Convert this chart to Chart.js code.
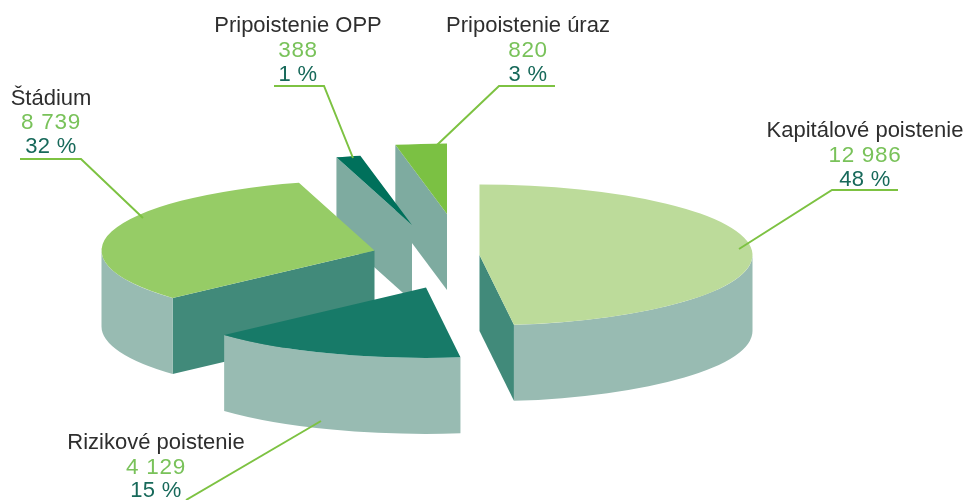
<!DOCTYPE html>
<html>
<head>
<meta charset="utf-8">
<style>html,body{margin:0;padding:0;background:#fff}canvas{display:block}</style>
<script src="https://cdn.jsdelivr.net/npm/chart.js@4"></script>
</head>
<body>
<canvas id="c" width="966" height="500"></canvas>
<script>
const categories = ['Kapitálové poistenie', 'Rizikové poistenie', 'Štádium', 'Pripoistenie OPP', 'Pripoistenie úraz'];
const amounts = [12986, 4129, 8739, 388, 820];
const amountLabels = ['12 986', '4 129', '8 739', '388', '820'];
const percentLabels = ['48 %', '15 %', '32 %', '1 %', '3 %'];

const topColors = ['#BCDB9A', '#177A68', '#96CC66', '#00705B', '#7BC143'];
const cutColors = ['#418A7A', '#418A7A', '#418A7A', '#7EABA0', '#7EABA0'];
const rimColor = '#98BBB2';
const squash = 0.258, depth = 76;
const paintOrder = [4, 3, 2, 0, 1];
const sliceShift = [[-3.5, 5], [-57, 37.5], [-108.5, 0.5], [-71, -25], [-36, -36]];

// label anchor: centre x, three baselines; leader: polyline
const labelPlace = [
  {x: 865, y: [137, 162, 186], leader: [[898, 190], [832, 190], [739, 249]]},
  {x: 156, y: [449, 474, 497], leader: [[321, 421], [186, 500]]},
  {x: 51,  y: [105, 129, 153], leader: [[20, 159], [81, 159], [143, 218]]},
  {x: 298, y: [32, 57, 81],    leader: [[274, 86], [324, 86], [353, 158]]},
  {x: 528, y: [32, 57, 81],    leader: [[555, 86], [499, 86], [437, 145]]}
];
const fontStack = '"Liberation Sans", Arial, sans-serif';

const solidPie = {
  id: 'solidPie',
  beforeDatasetDraw(chart, args) {
    const ctx = chart.ctx;
    const arcs = chart.getDatasetMeta(args.index).data;
    paintOrder.forEach(i => {
      const arc = arcs[i];
      const [dx, dy] = sliceShift[i];
      const cx = arc.x + dx, cy = arc.y + dy, R = arc.outerRadius, ry = R * squash;
      const a0 = arc.startAngle, a1 = arc.endAngle;
      const face = a => {
        const ex = cx + R * Math.cos(a), ey = cy + ry * Math.sin(a);
        ctx.beginPath();
        ctx.moveTo(cx, cy);
        ctx.lineTo(ex, ey);
        ctx.lineTo(ex, ey + depth);
        ctx.lineTo(cx, cy + depth);
        ctx.closePath();
        ctx.fillStyle = cutColors[i];
        ctx.fill();
      };
      if (Math.cos(a0) < -1e-6) face(a0);
      if (Math.cos(a1) > 1e-6) face(a1);
      const w0 = Math.max(a0, 0), w1 = Math.min(a1, Math.PI);
      if (w1 > w0) {
        ctx.beginPath();
        ctx.ellipse(cx, cy, R, ry, 0, w0, w1);
        ctx.ellipse(cx, cy + depth, R, ry, 0, w1, w0, true);
        ctx.closePath();
        ctx.fillStyle = rimColor;
        ctx.fill();
      }
      ctx.save();
      ctx.translate(cx, cy);
      ctx.scale(1, squash);
      ctx.translate(-arc.x, -arc.y);
      arc.draw(ctx);
      ctx.restore();
    });
    return false;
  },
  afterDatasetsDraw(chart) {
    const ctx = chart.ctx;
    ctx.save();
    ctx.textAlign = 'center';
    ctx.textBaseline = 'alphabetic';
    categories.forEach((name, i) => {
      const p = labelPlace[i];
      ctx.strokeStyle = '#7DC242';
      ctx.lineWidth = 2;
      ctx.beginPath();
      p.leader.forEach(([x, y], j) => j ? ctx.lineTo(x, y) : ctx.moveTo(x, y));
      ctx.stroke();
      ctx.font = '22px ' + fontStack;
      ctx.letterSpacing = '0px';
      ctx.fillStyle = '#2E2E2E';
      ctx.fillText(name, p.x, p.y[0]);
      ctx.font = '22.5px ' + fontStack;
      ctx.letterSpacing = '0.7px';
      ctx.fillStyle = '#79C25A';
      ctx.fillText(amountLabels[i], p.x, p.y[1]);
      ctx.font = '22px ' + fontStack;
      ctx.letterSpacing = '0.3px';
      ctx.fillStyle = '#17695A';
      ctx.fillText(percentLabels[i], p.x, p.y[2]);
    });
    ctx.restore();
  }
};

new Chart(document.getElementById('c'), {
  type: 'pie',
  data: {
    labels: categories,
    datasets: [{data: amounts, backgroundColor: topColors, borderWidth: 0}]
  },
  options: {
    responsive: false,
    animation: false,
    radius: 273,
    layout: {padding: 0},
    plugins: {legend: {display: false}, tooltip: {enabled: false}}
  },
  plugins: [solidPie]
});
</script>
</body>
</html>
